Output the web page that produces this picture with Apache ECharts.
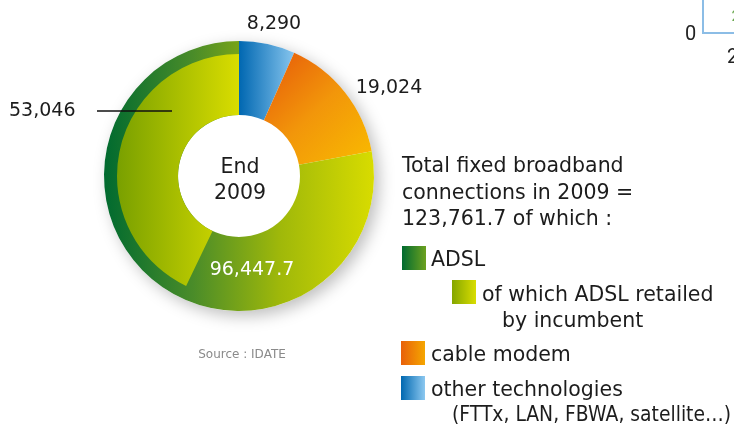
<!DOCTYPE html>
<html>
<head>
<meta charset="utf-8">
<script src="https://cdn.jsdelivr.net/npm/echarts@6/dist/echarts.min.js"></script>
<style>
  html, body { margin: 0; padding: 0; background: #fff; }
  #chart { width: 734px; height: 429px; }
</style>
</head>
<body>
<div id="chart"></div>
<script>
// Fixed broadband connections by technology, end of 2009 (thousands)
const categories = ['other technologies', 'cable modem', 'ADSL'];
const values = [8290, 19024, 96447.7];
const incumbentName = 'of which ADSL retailed by incumbent';
const incumbentValue = 53046;
const totalValue = 123761.7;
const yearLabel = ['End', '2009'];
const sourceText = 'Source : IDATE';

const fmt = v => v.toLocaleString('en-US', { maximumFractionDigits: 1 });
const grad = (x2, y2, stops) => new echarts.graphic.LinearGradient(0, 0, x2, y2,
  stops.map((c, i) => ({ offset: Array.isArray(c) ? c[0] : i / (stops.length - 1), color: Array.isArray(c) ? c[1] : c })));

const fills = {
  'other technologies': grad(1, 0, ['#0067b1', '#86c5ee']),
  'cable modem': grad(1, 1, ['#e6580a', '#f2960a', '#f9bb00']),
  'ADSL': grad(1, 0, [[0, '#006a2f'], [0.33, '#4a8c29'], [0.65, '#9fb80a'], [1, '#d8dc00']])
};
const incumbentFill = grad(1, 0, [[0, '#79a000'], [1, '#d9dd00']]);

const CENTER = [239, 176];
const FONT = 'DejaVu Sans';
const INK = '#1c1c1c';

const chart = echarts.init(document.getElementById('chart'), null, { renderer: 'canvas' });

const textEl = (text, x, y, opts = {}) => ({
  type: 'text', x, y, silent: true, z: 10,
  scaleX: opts.scaleX || 1,
  style: Object.assign({
    text, fill: INK, font: `${opts.size || 20.5}px "${FONT}"`,
    textAlign: opts.align || 'left', textVerticalAlign: 'middle'
  }, opts.style || {})
});

const swatch = (x, y, fill) => ({
  type: 'rect', silent: true, z: 10,
  shape: { x, y, width: 24, height: 24 },
  style: { fill }
});

chart.setOption({
  animation: false,
  backgroundColor: '#fff',
  series: [
    {
      // soft drop shadow behind the ring
      type: 'pie', z: 1, silent: true,
      center: CENTER, radius: [0, 135],
      label: { show: false }, labelLine: { show: false },
      data: [{ value: 1, itemStyle: { color: '#fff', shadowBlur: 16, shadowColor: 'rgba(0,0,0,0.26)', shadowOffsetX: 5, shadowOffsetY: 5 } }]
    },
    {
      type: 'pie', z: 2, silent: true,
      center: CENTER, radius: [61, 135],
      startAngle: 90, clockwise: true,
      avoidLabelOverlap: false,
      label: { show: false }, labelLine: { show: false },
      itemStyle: { borderWidth: 0 },
      data: categories.map((name, i) => ({ name, value: values[i], itemStyle: { color: fills[name] } }))
    },
    {
      type: 'pie', z: 3, silent: true,
      center: CENTER, radius: [61, 122],
      startAngle: 90, clockwise: false,
      label: { show: false }, labelLine: { show: false },
      itemStyle: { borderWidth: 0 },
      data: [
        { name: incumbentName, value: incumbentValue, itemStyle: { color: incumbentFill } },
        { name: 'rest', value: totalValue - incumbentValue, itemStyle: { color: 'rgba(0,0,0,0)' } }
      ]
    }
  ],
  graphic: [
    // value labels
    textEl(fmt(values[0]), 274, 24, { size: 19, align: 'center' }),
    textEl(fmt(values[1]), 389, 88, { size: 19, align: 'center' }),
    textEl(fmt(incumbentValue), 9, 111, { size: 19 }),
    { type: 'line', silent: true, z: 10, shape: { x1: 97, y1: 111, x2: 172, y2: 111 }, style: { stroke: '#111', lineWidth: 1.5 } },
    textEl(fmt(values[2]), 252, 270, { size: 19, align: 'center', style: { fill: '#fff' } }),
    textEl(yearLabel[0], 240, 168, { size: 20.5, align: 'center' }),
    textEl(yearLabel[1], 240, 194, { size: 20.5, align: 'center' }),

    // legend block
    textEl('Total fixed broadband', 402, 167),
    textEl('connections in 2009 =', 402, 193.5),
    textEl(fmt(totalValue) + ' of which :', 402, 220),
    swatch(402, 246, grad(1, 0, ['#006a30', '#6ca11f'])),
    textEl(categories[2], 431, 261),
    swatch(452, 280, grad(1, 0, ['#84a600', '#d9dd00'])),
    textEl('of which ADSL retailed', 482, 296),
    textEl('by incumbent', 502, 322),
    swatch(401, 341, grad(1, 0, ['#e8600a', '#f5a600'])),
    textEl(categories[1], 431, 355.5),
    swatch(401, 376, grad(1, 0, ['#0068b0', '#8cc8f0'])),
    textEl(categories[0], 431, 390.5),
    textEl('(FTTx, LAN, FBWA, satellite\u2026)', 452, 415.5, { scaleX: 0.915 }),

    textEl(sourceText, 242, 355, { size: 12, align: 'center', style: { fill: '#8a8a8a' } }),

    // corner of the neighbouring panel
    { type: 'polyline', silent: true, z: 10, shape: { points: [[703, 0], [703, 33], [734, 33]] }, style: { stroke: '#8cbde6', lineWidth: 2, fill: null } },
    textEl('0', 690.5, 35, { style: { font: '20px Roboto', fill: '#222', textAlign: 'center' } }),
    textEl('2', 727, 58, { style: { font: '20px Roboto', fill: '#222' } }),
    textEl('2', 731.5, 17, { style: { font: '15px Roboto', fill: '#6aa84f' } })
  ]
});
</script>
</body>
</html>
